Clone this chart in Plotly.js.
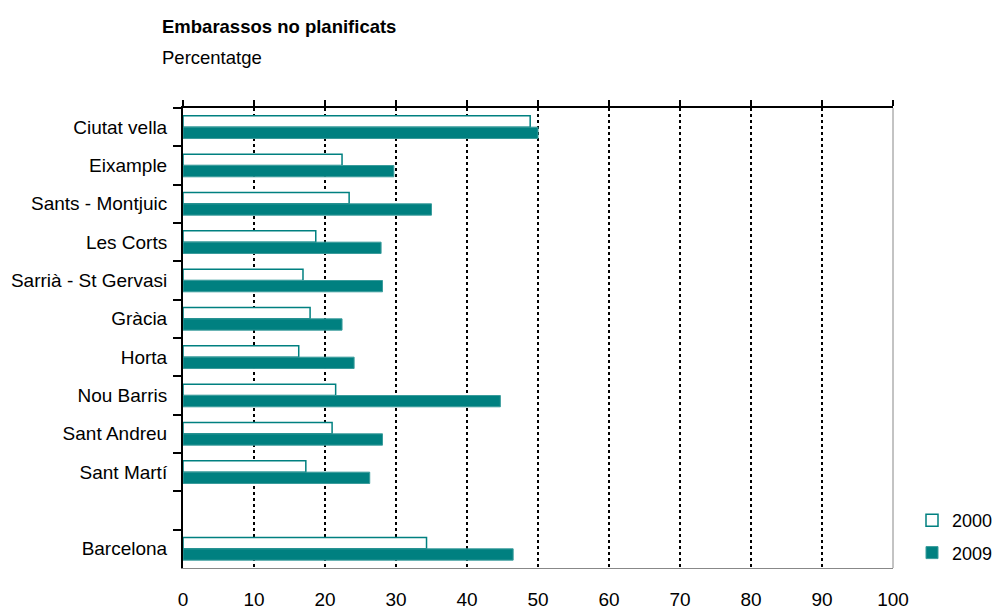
<!DOCTYPE html>
<html>
<head>
<meta charset="utf-8">
<script src="https://cdn.plot.ly/plotly-3.0.1.min.js"></script>
<style>
  html, body { margin: 0; padding: 0; background: #fff; }
  #chart { width: 1000px; height: 610px; }
</style>
</head>
<body>
<div id="chart"></div>
<script>
const categories = ["Ciutat vella", "Eixample", "Sants - Montjuic", "Les Corts", "Sarrià - St Gervasi", "Gràcia", "Horta", "Nou Barris", "Sant Andreu", "Sant Martí", " ", "Barcelona"];
const values2000 = [48.9, 22.4, 23.4, 18.7, 16.9, 17.9, 16.3, 21.5, 21.0, 17.3, null, 34.3];
const values2009 = [50.0, 29.7, 35.0, 27.9, 28.1, 22.4, 24.1, 44.7, 28.1, 26.3, null, 46.5];
const seriesNames = ["2000", "2009"];
const xTicks = [0, 10, 20, 30, 40, 50, 60, 70, 80, 90, 100];

const TEAL = "#008080";
const REG = "Liberation Sans, Arial, sans-serif";

const traces = [
  {
    type: "bar", orientation: "h", name: seriesNames[0], legendgroup: "a",
    x: values2000, y: categories,
    marker: { color: "#ffffff", line: { color: TEAL, width: 1.5 } },
    hoverinfo: "x+name"
  },
  {
    type: "bar", orientation: "h", name: seriesNames[1], legendgroup: "b",
    x: values2009, y: categories,
    marker: { color: TEAL, line: { color: "#3a9c9c", width: 1 } },
    hoverinfo: "x+name"
  },
  {
    type: "scatter", mode: "markers", x: [], y: [], xaxis: "x2", yaxis: "y",
    showlegend: false, hoverinfo: "skip"
  }
];

const layout = {
  width: 1000, height: 610,
  paper_bgcolor: "#fff", plot_bgcolor: "#fff",
  margin: { l: 183, r: 107, t: 108, b: 42, autoexpand: false },
  font: { family: REG, size: 18.5, color: "#000" },
  title: {
    text: "<b>Embarassos no planificats</b>",
    font: { family: REG, size: 18.5, color: "#000" },
    xref: "container", x: 0.162, xanchor: "left",
    yref: "container", y: 0.967, yanchor: "top"
  },
  annotations: [
    { text: "Percentatge", xref: "paper", yref: "paper", showarrow: false,
      x: -23 / 710, xanchor: "left", y: 1 + 50 / 460, yanchor: "middle",
      font: { family: REG, size: 18.5, color: "#000" } }
  ],
  barmode: "group", bargap: 0.41, bargroupgap: 0,
  xaxis: {
    range: [0, 100], tickvals: xTicks, ticktext: xTicks.map(String),
    showgrid: true, gridcolor: "#000", gridwidth: 2, griddash: "dot",
    zeroline: false, showline: true, linecolor: "#888", linewidth: 1,
    ticks: "", ticklabelstandoff: 14,
    tickfont: { family: REG, size: 19, color: "#000" },
    fixedrange: true
  },
  xaxis2: {
    overlaying: "x", side: "top", range: [0, 100], tickvals: xTicks,
    showticklabels: false, showgrid: false, zeroline: false,
    showline: true, linecolor: "#000", linewidth: 2,
    ticks: "outside", ticklen: 6, tickwidth: 2, tickcolor: "#000",
    fixedrange: true
  },
  yaxis: {
    type: "category", categoryorder: "array", categoryarray: categories,
    autorange: "reversed", tickson: "boundaries",
    showgrid: false, zeroline: false,
    showline: true, linecolor: "#000", linewidth: 2,
    ticks: "outside", ticklen: 8, tickwidth: 2, tickcolor: "#000",
    ticklabelstandoff: 10,
    tickfont: { family: REG, size: 19, color: "#000" },
    fixedrange: true
  },
  shapes: [
    { type: "line", xref: "paper", yref: "paper", x0: 1, x1: 1, y0: 0, y1: 1,
      line: { color: "#888", width: 1 } }
  ],
  legend: {
    xref: "container", yref: "container",
    x: 0.912, xanchor: "left", y: 1 - 502 / 610, yanchor: "top",
    font: { family: REG, size: 18, color: "#000" },
    bgcolor: "rgba(0,0,0,0)", traceorder: "grouped", itemwidth: 30,
    tracegroupgap: 6
  },
  showlegend: true
};

Plotly.newPlot("chart", traces, layout, { displayModeBar: false, staticPlot: true });
</script>
</body>
</html>
